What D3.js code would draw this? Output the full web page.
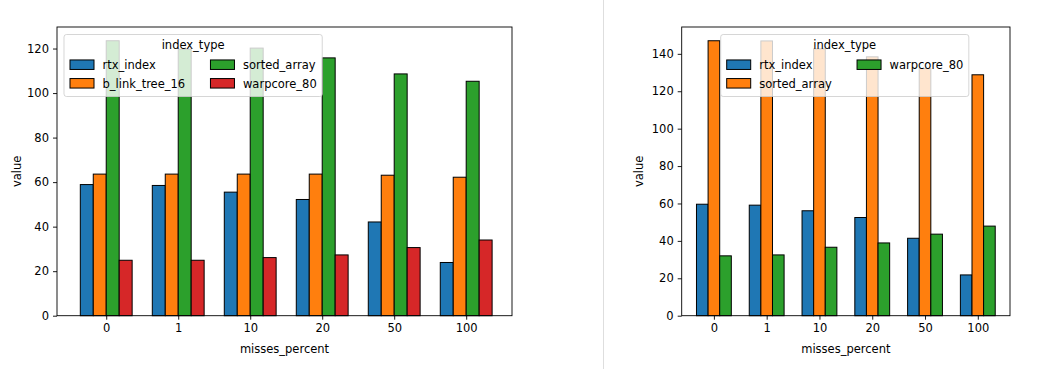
<!DOCTYPE html>
<html>
<head>
<meta charset="utf-8">
<script src="https://cdn.jsdelivr.net/npm/d3@7"></script>
<style>
  html, body { margin: 0; padding: 0; background: #fff; }
  svg text { font-family: "DejaVu Sans", sans-serif; fill: #000; }
</style>
</head>
<body>
<svg id="chart" width="1051" height="369"></svg>
<script>
// ---------- data ----------
const categories = ["0", "1", "10", "20", "50", "100"];

const leftSeriesNames = ["rtx_index", "b_link_tree_16", "sorted_array", "warpcore_80"];
const leftRtxIndex    = [58.9, 58.5, 55.5, 52.2, 42.1, 23.9];
const leftBLinkTree16 = [63.6, 63.6, 63.6, 63.6, 63.1, 62.2];
const leftSortedArray = [123.5, 119.7, 120.2, 115.8, 108.6, 105.3];
const leftWarpcore80  = [24.9, 24.9, 26.1, 27.3, 30.6, 34.0];
const leftYTicks = [0, 20, 40, 60, 80, 100, 120];

const rightSeriesNames = ["rtx_index", "sorted_array", "warpcore_80"];
const rightRtxIndex    = [59.6, 59.1, 56.1, 52.5, 41.4, 21.8];
const rightSortedArray = [147.0, 146.9, 142.7, 138.4, 132.2, 128.8];
const rightWarpcore80  = [32.0, 32.5, 36.6, 38.9, 43.6, 47.9];
const rightYTicks = [0, 20, 40, 60, 80, 100, 120, 140];

const xTitle = "misses_percent";
const yTitle = "value";
const legendTitle = "index_type";

// ---------- styles ----------
const colorOf = {
  rtx_index: "#1f77b4",
  b_link_tree_16: "#ff7f0e",
  sorted_array: "#2ca02c",
  warpcore_80: "#d62728"
};
const rightColors = { rtx_index: "#1f77b4", sorted_array: "#ff7f0e", warpcore_80: "#2ca02c" };
const FS = 11.5;

const svg = d3.select("#chart");

// separator
svg.append("line")
  .attr("x1", 603.5).attr("x2", 603.5).attr("y1", 0).attr("y2", 369)
  .attr("stroke", "#dedede").attr("stroke-width", 1);

function drawChart(opts) {
  const { left, right, top, bottom, names, values, yTicks, colors, legendX, legendCols } = opts;
  const g = svg.append("g");

  const maxV = d3.max(values.flat());
  const y = d3.scaleLinear().domain([0, maxV * 1.05]).range([bottom, top]);
  const x = d3.scalePoint().domain(categories).range([left, right])
    .padding(opts.pad).align(opts.align);
  const step = x.step();
  const barW = step * opts.groupFrac / names.length;

  // bars
  names.forEach((name, si) => {
    g.append("g").selectAll("rect")
      .data(values[si].map((v, i) => ({ cat: categories[i], v })))
      .join("rect")
      .attr("x", d => x(d.cat) + (si - names.length / 2) * barW)
      .attr("y", d => y(d.v))
      .attr("width", barW)
      .attr("height", d => y(0) - y(d.v))
      .attr("fill", colors[name])
      .attr("stroke", "#000")
      .attr("stroke-width", 1);
  });

  // axes
  const yAxis = d3.axisLeft(y).tickValues(yTicks).tickSize(4).tickPadding(4).tickFormat(d3.format("d"));
  const ya = g.append("g").attr("transform", `translate(${left},0)`).call(yAxis);
  const xAxis = d3.axisBottom(x).tickSize(4).tickPadding(4);
  const xa = g.append("g").attr("transform", `translate(0,${bottom})`).call(xAxis);
  [ya, xa].forEach(a => {
    a.select(".domain").remove();
    a.selectAll("text").attr("font-size", FS).attr("font-family", "DejaVu Sans").attr("fill", "#000");
    a.selectAll("line").attr("stroke", "#000").attr("stroke-width", 0.9);
  });

  // frame
  g.append("rect").attr("x", left).attr("y", top)
    .attr("width", right - left).attr("height", bottom - top)
    .attr("fill", "none").attr("stroke", "#000").attr("stroke-width", 0.9);

  // titles
  g.append("text").attr("x", (left + right) / 2).attr("y", 353)
    .attr("text-anchor", "middle").attr("font-size", FS).text(xTitle);
  g.append("text")
    .attr("transform", `translate(${opts.yTitleX},${(top + bottom) / 2}) rotate(-90)`)
    .attr("text-anchor", "middle").attr("font-size", FS).text(yTitle);

  // legend
  const lg = g.append("g");
  const box = lg.append("rect");
  const boxTop = 34.5, pad = 6, handleW = 24, handleH = 9.5, handleGap = 8.5, colSpace = 25.3;
  const rowY = [64.7, 83.3];
  const title = lg.append("text").attr("y", 49).attr("text-anchor", "middle")
    .attr("font-size", FS).text(legendTitle);
  let cx = legendX + pad;
  legendCols.forEach((col, ci) => {
    let maxW = 0;
    col.forEach((name, ri) => {
      lg.append("rect").attr("x", cx).attr("y", rowY[ri] - handleH / 2)
        .attr("width", handleW).attr("height", handleH)
        .attr("fill", colors[name]).attr("stroke", "#000").attr("stroke-width", 1);
      const t = lg.append("text").attr("x", cx + handleW + handleGap).attr("y", rowY[ri] + 4.2)
        .attr("font-size", FS).text(name);
      maxW = Math.max(maxW, t.node().getComputedTextLength());
    });
    cx = cx + handleW + handleGap + maxW + (ci < legendCols.length - 1 ? colSpace : 0);
  });
  const boxRight = cx + 5.5;
  box.attr("x", legendX).attr("y", boxTop).attr("width", boxRight - legendX).attr("height", 62)
    .attr("rx", 2.5).attr("fill", "#fff").attr("fill-opacity", 0.8)
    .attr("stroke", "#cccccc").attr("stroke-opacity", 0.8).attr("stroke-width", 1);
  title.attr("x", (legendX + boxRight) / 2);
}

drawChart({
  left: 57, right: 512, top: 27, bottom: 315.7,
  names: leftSeriesNames,
  values: [leftRtxIndex, leftBLinkTree16, leftSortedArray, leftWarpcore80],
  yTicks: leftYTicks, colors: colorOf,
  pad: 0.66, align: 0.518, groupFrac: 0.72,
  legendX: 64,
  legendCols: [["rtx_index", "b_link_tree_16"], ["sorted_array", "warpcore_80"]],
  yTitleX: 21
});

drawChart({
  left: 681.7, right: 1010, top: 27, bottom: 315.7,
  names: rightSeriesNames,
  values: [rightRtxIndex, rightSortedArray, rightWarpcore80],
  yTicks: rightYTicks, colors: rightColors,
  pad: 0.61, align: 0.5, groupFrac: 0.66,
  legendX: 720.7,
  legendCols: [["rtx_index", "sorted_array"], ["warpcore_80"]],
  yTitleX: 642.5
});
</script>
</body>
</html>
